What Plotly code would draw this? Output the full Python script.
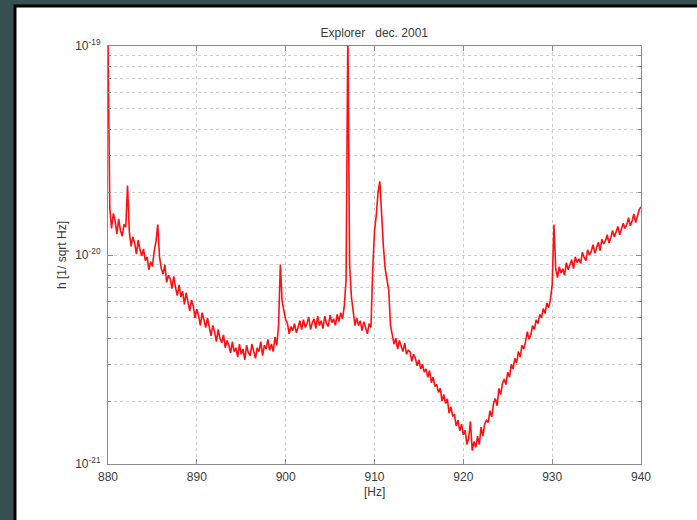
import numpy as np
import plotly.graph_objects as go

# Strain noise spectrum, Explorer detector, Dec. 2001.
# Frequency grid: 880-940 Hz in 0.2 Hz bins; amplitude in units of 1e-21 /sqrt(Hz).
freq_start_hz = 880.0
freq_step_hz = 0.2

h_e21 = [
    105, 16.8, 13.4, 15.8, 14.6,      # 880
    12.6, 14.9, 13.1, 12.3, 14.0,     # 881
    13.6, 21.5, 12.9, 11.0, 12.2,     # 882
    11.4, 10.1, 11.8, 10.6, 9.9,      # 883
    10.7, 9.4, 9.8, 8.5, 9.3,         # 884
    8.8, 10.4, 11.6, 14.0, 9.8,       # 885
    8.6, 8.1, 9.0, 7.4, 8.0,          # 886
    7.7, 6.9, 7.9, 7.0, 6.4,          # 887
    7.2, 6.3, 6.7, 5.8, 6.6,          # 888
    6.0, 5.4, 6.1, 5.7, 5.0,          # 889
    5.5, 5.1, 4.6, 5.3, 4.9,          # 890
    4.5, 5.0, 4.6, 4.1, 4.6,          # 891
    4.3, 3.85, 4.4, 4.0, 3.8,         # 892
    4.15, 3.6, 3.9, 3.7, 3.4,         # 893
    3.85, 3.45, 3.6, 3.25, 3.75,      # 894
    3.35, 3.55, 3.15, 3.7, 3.4,       # 895
    3.3, 3.75, 3.5, 3.2, 3.6,         # 896
    3.45, 3.85, 3.3, 3.7, 3.55,       # 897
    3.95, 3.5, 3.75, 3.45, 4.05,      # 898
    3.7, 4.6, 9.0, 6.0, 5.5,          # 899
    4.9, 4.7, 4.2, 4.55, 4.35,        # 900
    4.7, 4.25, 4.5, 4.85, 4.4,        # 901
    4.9, 4.5, 4.7, 5.05, 4.4,         # 902
    4.75, 4.95, 4.45, 5.1, 4.6,       # 903
    4.85, 4.45, 5.1, 4.7, 4.55,       # 904
    5.15, 4.75, 4.95, 4.6, 5.2,       # 905
    4.8, 5.3, 4.95, 5.7, 7.6,         # 906
    120, 9.0, 6.3, 5.2, 4.6,          # 907
    5.0, 4.6, 4.85, 4.35, 4.8,        # 908
    4.5, 4.2, 4.7, 4.5, 8.5,          # 909
    13.0, 15.5, 20.0, 22.5, 15.0,     # 910
    11.0, 8.6, 7.6, 6.8, 4.6,         # 911
    4.1, 3.75, 4.0, 3.55, 3.9,        # 912
    3.65, 3.45, 3.8, 3.35, 3.5,       # 913
    3.45, 3.1, 3.35, 3.2, 2.95,       # 914
    3.15, 2.85, 3.0, 2.75, 2.85,      # 915
    2.6, 2.8, 2.45, 2.6, 2.35,        # 916
    2.4, 2.2, 2.3, 2.0, 2.15,         # 917
    1.95, 2.05, 1.75, 1.88, 1.7,      # 918
    1.72, 1.52, 1.62, 1.44, 1.55,     # 919
    1.38, 1.45, 1.24, 1.33, 1.6,      # 920
    1.16, 1.28, 1.2, 1.36, 1.24,      # 921
    1.5, 1.36, 1.55, 1.62, 1.58,      # 922
    1.8, 1.68, 1.95, 2.06, 1.9,       # 923
    2.3, 2.15, 2.42, 2.55, 2.4,       # 924
    2.75, 2.6, 3.0, 2.85, 3.2,        # 925
    3.05, 3.45, 3.25, 3.7, 3.55,      # 926
    3.85, 4.3, 3.95, 4.15, 4.6,       # 927
    4.4, 4.9, 4.7, 5.2, 5.0,          # 928
    5.55, 5.25, 5.9, 5.6, 6.1,        # 929
    7.2, 14.0, 8.6, 7.8, 8.8,         # 930
    8.2, 8.6, 8.0, 9.2, 8.5,          # 931
    8.9, 9.5, 8.6, 9.8, 9.2,          # 932
    9.6, 9.1, 10.3, 9.7, 9.4,         # 933
    10.6, 10.0, 10.4, 11.2, 10.2,     # 934
    10.8, 11.5, 10.5, 11.9, 11.3,     # 935
    11.7, 12.5, 11.4, 12.1, 13.1,     # 936
    12.2, 12.9, 13.7, 12.5, 13.3,     # 937
    14.2, 13.4, 14.0, 15.1, 13.8,     # 938
    14.6, 15.7, 14.3, 15.2, 16.5,     # 939
    17.0,                             # 940
]

x_ticks = [880, 890, 900, 910, 920, 930, 940]
y_decades = [1e-21, 1e-20, 1e-19]
y_decade_labels = ["10<sup>-21</sup>", "10<sup>-20</sup>", "10<sup>-19</sup>"]

freq = freq_start_hz + freq_step_hz * np.arange(len(h_e21))
h = np.array(h_e21) * 1e-21

FONT = "Liberation Sans, Arial, Helvetica, sans-serif"
TXT = "#3a3a3a"
AXIS = "#8a8a8a"
GRID = "#cfcfcf"

fig = go.Figure()
fig.add_trace(go.Scatter(
    x=freq, y=h, mode="lines",
    line=dict(color="#ff1010", width=1.6),
    hoverinfo="skip", showlegend=False,
))

fig.update_layout(
    width=697, height=520,
    margin=dict(l=108, r=56, t=46, b=56),
    paper_bgcolor="#35504f",
    plot_bgcolor="white",
    font=dict(family=FONT, size=12, color=TXT),
    title=dict(text="Explorer   dec. 2001", x=0.537, xanchor="center",
               y=1 - 33 / 520, yanchor="middle", yref="container",
               font=dict(family=FONT, size=12, color=TXT)),
    showlegend=False,
)

fig.update_xaxes(
    range=[880, 940], tickvals=x_ticks, ticks="inside", ticklen=5,
    tickcolor=AXIS, showline=True, linecolor=AXIS, linewidth=1,
    mirror="ticks", showgrid=True, gridcolor=GRID, griddash="dot",
    gridwidth=1, zeroline=False, tickfont=dict(size=12, color=TXT),
    ticklabelstandoff=2,
)
fig.update_yaxes(
    type="log", range=[-21, -19], tickvals=y_decades, ticktext=y_decade_labels,
    ticks="inside", ticklen=5, tickcolor=AXIS, showline=True,
    linecolor=AXIS, linewidth=1, mirror="ticks", showgrid=True,
    gridcolor=GRID, griddash="dot", gridwidth=1, zeroline=False,
    tickfont=dict(size=12, color=TXT), ticklabelstandoff=4,
    minor=dict(dtick="D1", ticks="inside", ticklen=3, tickcolor=AXIS,
               showgrid=True, gridcolor=GRID, griddash="dot", gridwidth=1),
)

# white slide panel with a black frame behind the axes
fig.add_shape(type="rect", xref="paper", yref="paper",
              x0=-0.1745, x1=1.12, y0=-0.16, y1=1.0957,
              fillcolor="white", line=dict(color="black", width=3),
              layer="below")

fig.add_annotation(text="h [1/ sqrt Hz]", xref="paper", yref="paper",
                   x=-0.0863, y=0.5, textangle=-90, showarrow=False,
                   xanchor="center", yanchor="middle",
                   font=dict(family=FONT, size=12, color=TXT))
fig.add_annotation(text="[Hz]", xref="paper", yref="paper",
                   x=0.5, y=-0.067, showarrow=False,
                   xanchor="center", yanchor="middle",
                   font=dict(family=FONT, size=12, color=TXT))

fig.write_html("out.html")
